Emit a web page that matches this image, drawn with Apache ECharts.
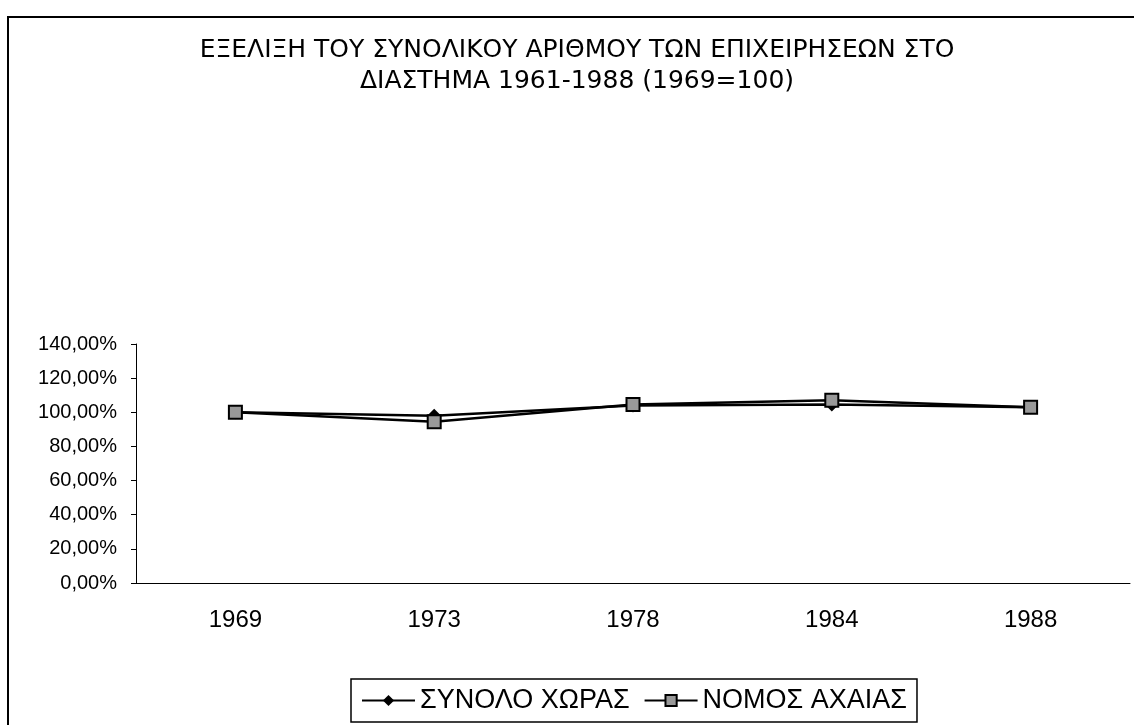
<!DOCTYPE html>
<html>
<head>
<meta charset="utf-8">
<style>
  html, body { margin: 0; padding: 0; background: #fff; }
  #chart { width: 1134px; height: 725px; }
</style>
<script src="https://cdn.jsdelivr.net/npm/echarts@6/dist/echarts.min.js"></script>
</head>
<body>
<div id="chart"></div>
<script>
var years = ['1969', '1973', '1978', '1984', '1988'];
var synoloXoras = [100, 98, 104, 104.5, 103];
var nomosAxaias = [100, 94.5, 104.5, 107, 103];

var chart = echarts.init(document.getElementById('chart'));
var font = '"Liberation Sans", Arial, sans-serif';

chart.setOption({
  animation: false,
  backgroundColor: '#fff',
  textStyle: { fontFamily: font, color: '#000' },
  title: {
    text: 'ΕΞΕΛΙΞΗ ΤΟΥ ΣΥΝΟΛΙΚΟΥ ΑΡΙΘΜΟΥ ΤΩΝ ΕΠΙΧΕΙΡΗΣΕΩΝ ΣΤΟ\nΔΙΑΣΤΗΜΑ 1961-1988 (1969=100)',
    left: 572,
    top: 30,
    textAlign: 'center',
    textStyle: { fontFamily: '"DejaVu Sans", sans-serif', fontSize: 25, fontWeight: 'normal', color: '#000', lineHeight: 31 }
  },
  graphic: [{
    type: 'rect',
    shape: { x: 8, y: 17, width: 1140, height: 720 },
    style: { fill: 'none', stroke: '#000', lineWidth: 2 },
    silent: true
  }],
  legend: {
    bottom: 3,
    left: 351,
    itemWidth: 53,
    itemHeight: 14,
    itemGap: 14,
    padding: [8, 10],
    borderColor: '#000',
    borderWidth: 1.5,
    textStyle: { fontFamily: font, fontSize: 27, color: '#000' },
    data: ['ΣΥΝΟΛΟ ΧΩΡΑΣ', 'ΝΟΜΟΣ ΑΧΑΙΑΣ']
  },
  grid: { left: 136, right: 4, top: 344, bottom: 142, containLabel: false },
  xAxis: {
    type: 'category',
    data: years,
    boundaryGap: true,
    axisLine: { lineStyle: { color: '#000', width: 1 } },
    axisTick: { length: 5, lineStyle: { color: '#000' } },
    axisLabel: { color: '#000', fontFamily: font, fontSize: 24, margin: 25 }
  },
  yAxis: {
    type: 'value',
    min: 0,
    max: 140,
    interval: 20,
    splitLine: { show: false },
    axisLine: { show: true, lineStyle: { color: '#000', width: 1 } },
    axisTick: { show: true, length: 5, lineStyle: { color: '#000' } },
    axisLabel: {
      color: '#000', fontFamily: font, fontSize: 20, margin: 19,
      formatter: function (v) { return v.toFixed(2).replace('.', ',') + '%'; }
    }
  },
  series: [{
    name: 'ΣΥΝΟΛΟ ΧΩΡΑΣ',
    type: 'line',
    data: synoloXoras,
    symbol: 'diamond',
    symbolSize: 14,
    lineStyle: { color: '#000', width: 2.5 },
    itemStyle: { color: '#000' }
  }, {
    name: 'ΝΟΜΟΣ ΑΧΑΙΑΣ',
    type: 'line',
    data: nomosAxaias,
    symbol: 'rect',
    symbolSize: 13,
    lineStyle: { color: '#000', width: 2.5 },
    itemStyle: { color: '#999', borderColor: '#000', borderWidth: 2 }
  }]
});
</script>
</body>
</html>
